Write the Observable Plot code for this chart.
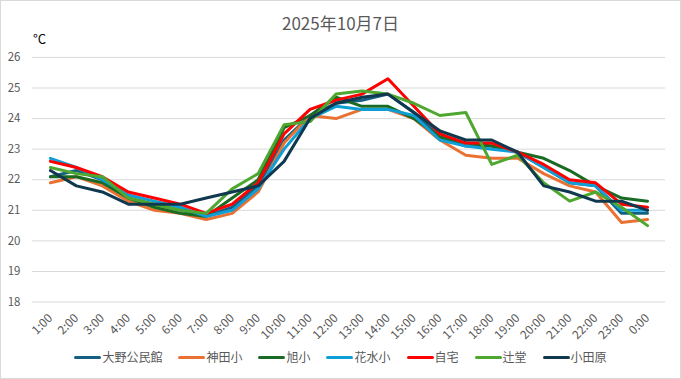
<!DOCTYPE html>
<html><head><meta charset="utf-8">
<script src="https://cdn.jsdelivr.net/npm/d3@7"></script>
<script src="https://cdn.jsdelivr.net/npm/@observablehq/plot@0.6"></script>
<style>
body{margin:0;background:#fff;}
#chart{position:relative;width:681px;height:379px;box-sizing:border-box;border:1px solid #d9d9d9;overflow:hidden;font-family:"Noto Sans CJK JP","Noto Sans",sans-serif;background:#fff;}
#title{position:absolute;left:-1px;width:681px;top:13px;text-align:center;font-size:17px;color:#595959;line-height:1;}
#unit{position:absolute;left:32px;top:31px;font-size:13px;color:#000;line-height:1;}
#plot{position:absolute;left:-1px;top:-1px;}
#legend{position:absolute;left:-1px;width:681px;top:350px;display:flex;justify-content:center;gap:16px;font-size:12px;color:#595959;line-height:1;}
.item{display:flex;align-items:center;}
.sw{width:27px;height:3px;border-radius:2px;margin-right:1px;}
</style></head>
<body>
<div id="chart">
  <div id="plot"></div>
  <div id="title"></div>
  <div id="unit"></div>
  <div id="legend"></div>
</div>
<script>
const titleText = "2025年10月7日";
const unitText = "°C";
const hours = ["1:00","2:00","3:00","4:00","5:00","6:00","7:00","8:00","9:00","10:00","11:00","12:00","13:00","14:00","15:00","16:00","17:00","18:00","19:00","20:00","21:00","22:00","23:00","0:00"];
const seriesNames = ["大野公民館","神田小","旭小","花水小","自宅","辻堂","小田原"];
const seriesColors = ["#156082","#E97132","#196B24","#0F9ED5","#FF0000","#4EA72E","#10384F"];
const yTicks = [18,19,20,21,22,23,24,25,26];

const oono    = [22.1,22.3,22.0,21.4,21.2,21.0,20.8,21.1,21.8,23.3,24.1,24.5,24.6,24.8,24.2,23.4,23.1,23.1,22.9,22.4,21.9,21.8,20.9,20.9];
const kanda   = [21.9,22.1,21.8,21.3,21.0,20.9,20.7,20.9,21.6,23.2,24.1,24.0,24.3,24.3,24.0,23.3,22.8,22.7,22.7,22.2,21.8,21.6,20.6,20.7];
const asahi   = [22.1,22.1,21.9,21.4,21.1,20.9,20.8,21.4,22.0,23.7,24.1,24.7,24.4,24.4,24.0,23.4,23.2,23.1,22.9,22.7,22.3,21.8,21.4,21.3];
const hanamizu= [22.7,22.4,22.0,21.5,21.3,21.1,20.8,21.0,21.7,23.0,24.0,24.4,24.3,24.3,24.1,23.3,23.1,23.0,22.9,22.4,21.9,21.8,21.0,21.0];
const jitaku  = [22.6,22.4,22.1,21.6,21.4,21.2,20.9,21.2,21.9,23.5,24.3,24.6,24.8,25.3,24.4,23.5,23.2,23.2,22.9,22.5,22.0,21.9,21.2,21.1];
const tsujido = [22.4,22.2,22.1,21.4,21.2,21.0,20.9,21.7,22.2,23.8,23.9,24.8,24.9,24.8,24.5,24.1,24.2,22.5,22.8,21.9,21.3,21.6,21.1,20.5];
const odawara = [22.3,21.8,21.6,21.2,21.2,21.2,21.4,21.6,21.8,22.6,24.0,24.5,24.7,24.8,24.2,23.6,23.3,23.3,22.9,21.8,21.6,21.3,21.3,21.0];

const seriesValues = [oono,kanda,asahi,hanamizu,jitaku,tsujido,odawara];
const data = seriesNames.flatMap((name, s) => hours.map((h, i) => ({series: name, hour: h, value: seriesValues[s][i]})));

document.getElementById("title").textContent = titleText;
document.getElementById("unit").textContent = unitText;

const chart = Plot.plot({
  width: 681,
  height: 350,
  marginTop: 57,
  marginBottom: 48,
  marginLeft: 32,
  marginRight: 15,
  style: {fontFamily: '"Noto Sans CJK JP","Noto Sans",sans-serif', fontSize: "11px", color: "#595959", background: "transparent"},
  x: {type: "point", domain: hours, padding: 0.5},
  y: {domain: [18, 26]},
  color: {domain: seriesNames, range: seriesColors},
  marks: [
    Plot.gridY(yTicks, {stroke: "#d9d9d9", strokeOpacity: 1, strokeWidth: 1}),
    Plot.axisY(yTicks, {tickSize: 0, tickPadding: 12, label: null, fill: "#595959", fontSize: 11.5}),
    Plot.axisX({tickSize: 0, tickRotate: -45, tickPadding: 14, label: null, fill: "#595959", fontSize: 12}),
    Plot.line(data, {x: "hour", y: "value", z: "series", stroke: "series", strokeWidth: 3, strokeLinejoin: "round", strokeLinecap: "round"})
  ]
});
document.getElementById("plot").appendChild(chart);

const legend = document.getElementById("legend");
seriesNames.forEach((n, i) => {
  const it = document.createElement("div"); it.className = "item";
  const sw = document.createElement("div"); sw.className = "sw"; sw.style.background = seriesColors[i];
  const tx = document.createElement("span"); tx.textContent = n;
  it.appendChild(sw); it.appendChild(tx); legend.appendChild(it);
});
</script>
</body></html>
